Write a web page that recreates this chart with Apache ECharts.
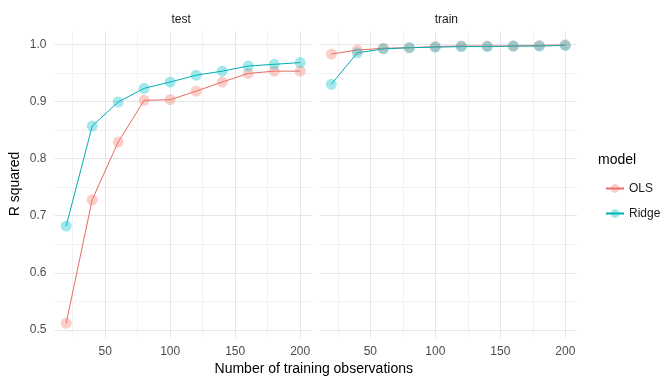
<!DOCTYPE html>
<html><head><meta charset="utf-8">
<script src="https://cdn.jsdelivr.net/npm/echarts@6/dist/echarts.min.js"></script>
<style>html,body{margin:0;padding:0;background:#fff}#c{width:672px;height:384px}</style>
</head><body><div id="c"></div>
<script>
const nObs = [20, 40, 60, 80, 100, 120, 140, 160, 180, 200];
const testOLS = [0.512, 0.728, 0.829, 0.902, 0.903, 0.918, 0.934, 0.949, 0.953, 0.953];
const testRidge = [0.682, 0.857, 0.899, 0.923, 0.934, 0.946, 0.953, 0.962, 0.965, 0.968];
const trainOLS = [0.983, 0.990, 0.993, 0.994, 0.996, 0.997, 0.997, 0.997, 0.998, 0.999];
const trainRidge = [0.930, 0.985, 0.992, 0.994, 0.995, 0.996, 0.996, 0.997, 0.997, 0.998];
const xTicks = [50, 100, 150, 200];
const xMinor = [25, 75, 125, 175];
const yTicks = [0.5, 0.6, 0.7, 0.8, 0.9, 1.0];
const yMinor = [0.55, 0.65, 0.75, 0.85, 0.95];
const facets = ['test', 'train'];
const models = ['OLS', 'Ridge'];

const COL = {OLS: '#F8766D', Ridge: '#00BFC4'};
const LINECOL = {OLS: '#e56b64', Ridge: '#00aeb3'};
const FONT = 'Liberation Sans, Arial, sans-serif';
const panelTop = 31.5, panelH = 306.2, panelW = 257.4;
const panelLeft = [54.5, 319.6];

const chart = echarts.init(document.getElementById('c'), null, {renderer: 'canvas'});

const grids = panelLeft.map(l => ({left: l, top: panelTop, width: panelW, height: panelH, containLabel: false}));
const xAxes = panelLeft.map((l, i) => ({
  type: 'value', gridIndex: i, min: 11, max: 209,
  axisLine: {show: false}, axisTick: {show: false, customValues: xTicks},
  splitLine: {show: false},
  axisLabel: {customValues: xTicks, color: '#4d4d4d', fontSize: 12, fontFamily: FONT, margin: 8}
}));
const yAxes = panelLeft.map((l, i) => ({
  type: 'value', gridIndex: i, min: 0.4866, max: 1.0224,
  axisLine: {show: false}, axisTick: {show: false, customValues: yTicks},
  splitLine: {show: false},
  axisLabel: {show: i === 0, customValues: yTicks, color: '#4d4d4d', fontSize: 12, fontFamily: FONT, margin: 8,
    formatter: v => v.toFixed(1)}
}));

const majorStyle = {color: '#e6e6e6', width: 1, type: 'solid'};
const minorStyle = {color: '#f2f2f2', width: 1, type: 'solid'};
const gridSeries = panelLeft.map((l, i) => ({
  type: 'line', name: 'grid' + i, xAxisIndex: i, yAxisIndex: i, data: [], z: 0, silent: true,
  markLine: {
    silent: true, symbol: 'none', animation: false, label: {show: false}, z: 0,
    data: [].concat(
      xMinor.map(v => ({xAxis: v, lineStyle: minorStyle})),
      yMinor.map(v => ({yAxis: v, lineStyle: minorStyle})),
      xTicks.map(v => ({xAxis: v, lineStyle: majorStyle})),
      yTicks.map(v => ({yAxis: v, lineStyle: majorStyle}))
    )
  }
}));

const dataMap = {test: {OLS: testOLS, Ridge: testRidge}, train: {OLS: trainOLS, Ridge: trainRidge}};
const dataSeries = [];
facets.forEach((f, i) => {
  models.forEach(m => {
    dataSeries.push({
      type: 'line', name: m, xAxisIndex: i, yAxisIndex: i, z: 3,
      data: nObs.map((x, k) => [x, dataMap[f][m][k]]),
      symbol: 'circle', symbolSize: 11, showSymbol: true,
      lineStyle: {color: LINECOL[m], width: 1, opacity: 1},
      itemStyle: {color: COL[m], opacity: 0.36, borderWidth: 0},
      emphasis: {disabled: true}
    });
  });
});

chart.setOption({
  animation: false,
  backgroundColor: '#ffffff',
  grid: grids, xAxis: xAxes, yAxis: yAxes,
  legend: {
    data: models, orient: 'vertical', left: 600, top: 177.5, itemWidth: 18, itemHeight: 11, itemGap: 13,
    textStyle: {color: '#1a1a1a', fontSize: 12, fontFamily: FONT}, selectedMode: false
  },
  graphic: [
    {type: 'text', left: 598, top: 153, style: {text: 'model', fill: '#000', fontSize: 14, fontFamily: FONT}},
    {type: 'text', x: panelLeft[0] + panelW / 2 - 2, y: 20, style: {text: facets[0], fill: '#1a1a1a', fontSize: 12, fontFamily: FONT, align: 'center', verticalAlign: 'middle'}},
    {type: 'text', x: panelLeft[1] + panelW / 2 - 2, y: 20, style: {text: facets[1], fill: '#1a1a1a', fontSize: 12, fontFamily: FONT, align: 'center', verticalAlign: 'middle'}},
    {type: 'text', x: (panelLeft[0] + panelLeft[1] + panelW) / 2 - 2, y: 369, style: {text: 'Number of training observations', fill: '#000', fontSize: 14, fontFamily: FONT, align: 'center', verticalAlign: 'middle'}},
    {type: 'text', x: 15, y: 184, rotation: Math.PI / 2, style: {text: 'R squared', fill: '#000', fontSize: 14, fontFamily: FONT, align: 'center', verticalAlign: 'middle'}}
  ],
  series: gridSeries.concat(dataSeries)
});
</script></body></html>
